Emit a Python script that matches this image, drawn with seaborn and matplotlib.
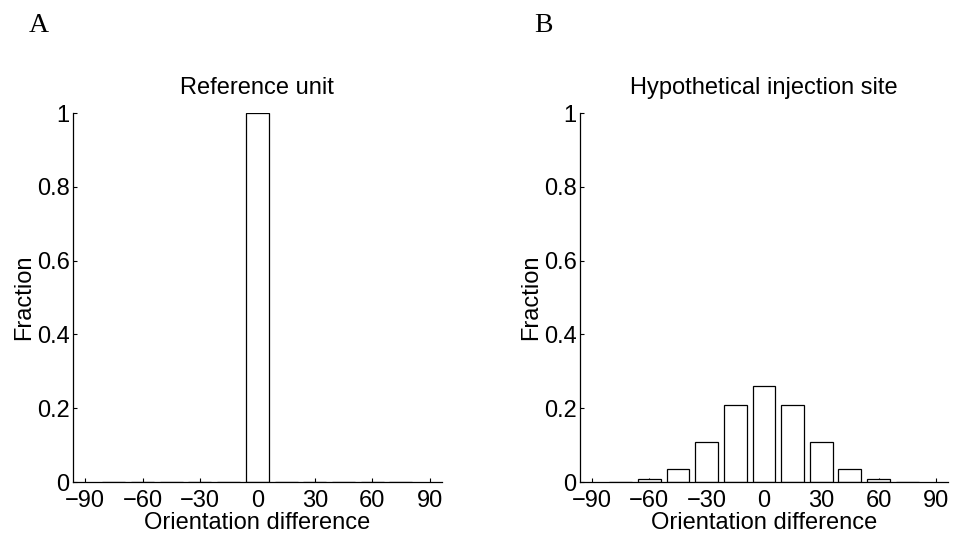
import matplotlib
matplotlib.use("Agg")
import matplotlib.pyplot as plt
import seaborn as sns
import numpy as np
import pandas as pd

# Data
centers = [-75, -60, -45, -30, -15, 0, 15, 30, 45, 60, 75]
ref_unit = [0, 0, 0, 0, 0, 1.0, 0, 0, 0, 0, 0]
injection_site = [0.001, 0.007, 0.036, 0.109, 0.209, 0.260, 0.209, 0.109, 0.036, 0.007, 0.001]
xticks = [-90, -60, -30, 0, 30, 60, 90]
xticklabels = ["\u221290", "\u221260", "\u221230", "0", "30", "60", "90"]
yticks = [0, 0.2, 0.4, 0.6, 0.8, 1]
yticklabels = ["0", "0.2", "0.4", "0.6", "0.8", "1"]
titles = ["Reference unit", "Hypothetical injection site"]
panel_labels = ["A", "B"]

sns.set_theme(style="ticks")
plt.rcParams['font.family'] = ['Liberation Sans', 'DejaVu Sans']
plt.rcParams['text.color'] = 'black'
plt.rcParams['axes.labelcolor'] = 'black'

fs = 17
fig = plt.figure(figsize=(9.56, 5.4), dpi=100)
positions = [[0.0764, 0.1074, 0.3856, 0.6833], [0.6067, 0.1074, 0.3849, 0.6833]]
series = [ref_unit, injection_site]
label_x = [0.030, 0.5586]

for i in range(2):
    ax = fig.add_axes(positions[i])
    df = pd.DataFrame({"center": centers, "fraction": series[i]})
    sns.barplot(data=df, x="center", y="fraction", native_scale=True, width=0.8,
                color="white", edgecolor="black", linewidth=0.9, ax=ax,
                saturation=1, errorbar=None)
    ax.set_xlim(-96.3, 96.3)
    ax.set_ylim(0, 1)
    ax.set_xticks(xticks)
    ax.set_xticklabels(xticklabels)
    ax.set_yticks(yticks)
    ax.set_yticklabels(yticklabels)
    ax.tick_params(direction="in", length=3, width=0.8, labelsize=fs,
                   colors="black", labelcolor="black")
    ax.tick_params(axis="x", pad=6)
    ax.tick_params(axis="y", pad=2.5)
    for s in ["top", "right"]:
        ax.spines[s].set_visible(False)
    for s in ["left", "bottom"]:
        ax.spines[s].set_linewidth(0.9)
        ax.spines[s].set_color("black")
    ax.set_xlabel("Orientation difference", fontsize=fs, labelpad=0, color="black")
    ax.set_ylabel("Fraction", fontsize=fs, labelpad=1, color="black")
    ax.set_title(titles[i], fontsize=fs, pad=14, color="black")
    fig.text(label_x[i], 0.953, panel_labels[i], fontsize=20, family=['Liberation Serif'],
             ha="left", va="center", color="black")

fig.savefig("out.png", dpi=100)
